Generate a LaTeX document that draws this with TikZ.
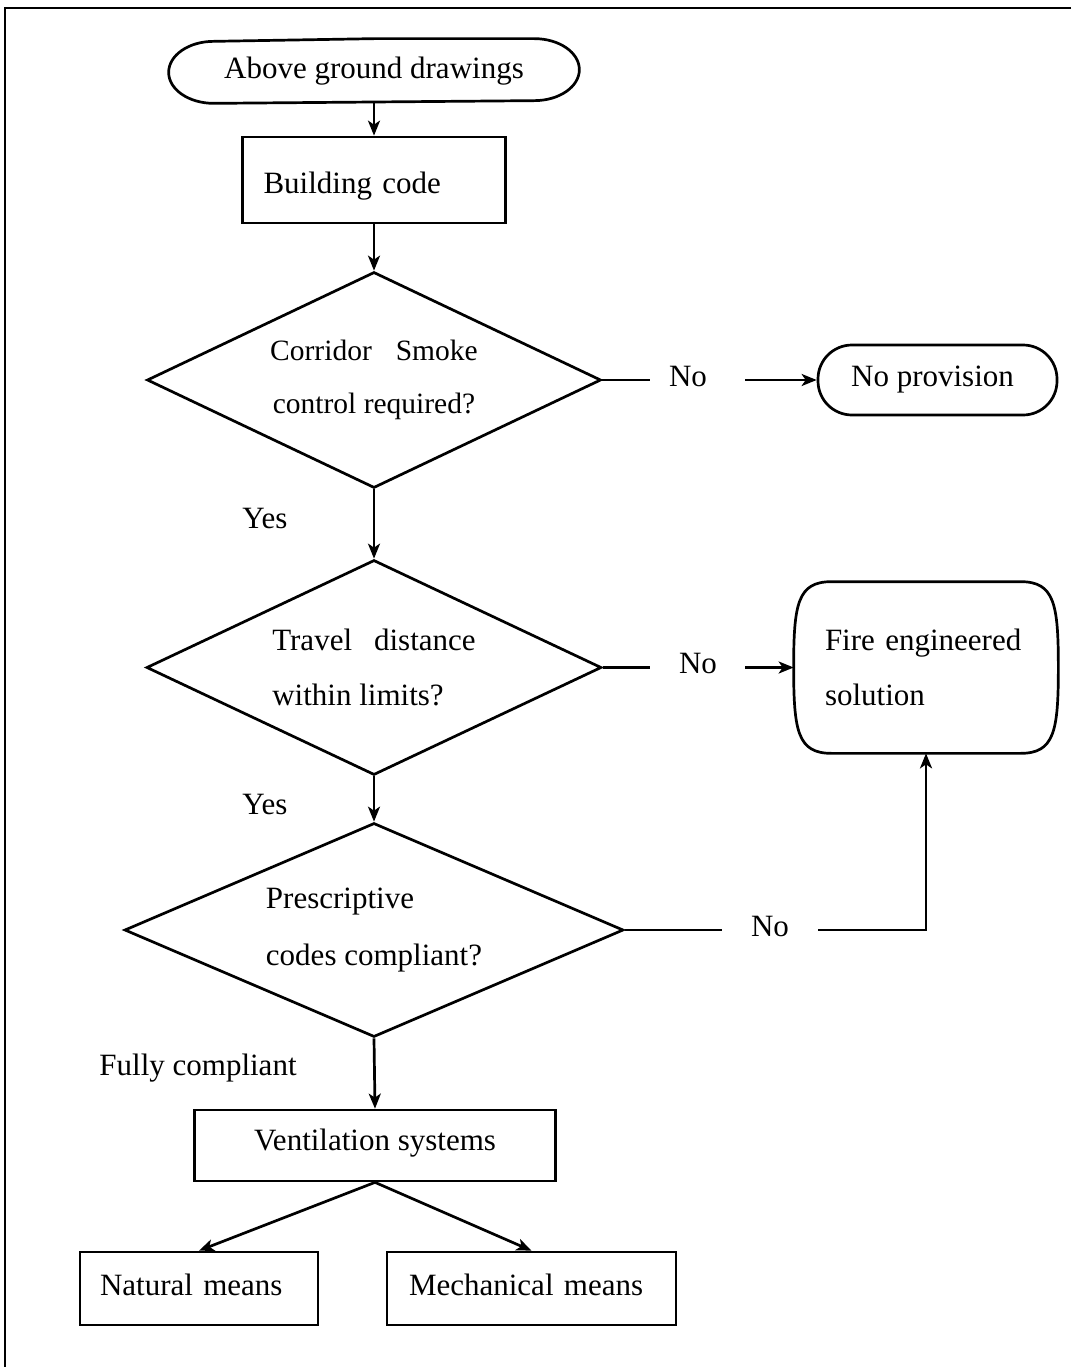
\documentclass[tikz,border=0pt]{standalone}
\usepackage{fontspec}
\setmainfont{Liberation Serif}
\usetikzlibrary{shapes.geometric,arrows.meta}
\begin{document}
\begin{tikzpicture}[x=1pt,y=1pt,
  line width=2.7pt,
  every node/.style={font=\fontsize{31}{38}\selectfont},
  arr/.style={-{Stealth[length=15pt,width=12pt,inset=4pt]}},
  box/.style={draw, rectangle, inner sep=0pt},
  decision/.style={draw, diamond, inner sep=0pt},
  lbl/.style={inner sep=0pt},
]
\useasboundingbox (0,0) rectangle (1071,-1367);
\draw[line width=2.2pt] (1071,-8) -- (5,-8) -- (5,-1367);

% start terminal
\node[lbl, minimum width=408, minimum height=62] (start) at (374,-71) {Above ground drawings};
\draw (start.north) -- ([xshift=-45pt]start.north east)
  arc[start angle=90,end angle=-90,x radius=45,y radius=31]
  -- ([xshift=45pt]start.south west)
  arc[start angle=270,end angle=90,x radius=45,y radius=31] -- cycle;

\node[box, minimum width=263, minimum height=86, text width=221pt, align=left, inner xsep=21pt,
  text height=27pt, text depth=0pt] (bc) at (374,-180) {Building code};

\node[decision, shape aspect=2.1, minimum width=454, minimum height=216, align=center] (d1) at (374,-380)
  {\fontsize{29.5}{36}\selectfont Corridor\hspace{24pt}Smoke\\[15pt]\fontsize{29.5}{36}\selectfont control required?};

\node[draw, rounded corners=34pt, minimum width=239, minimum height=70] (np) at (937.5,-380) {\hspace{-10pt}No provision};

\node[decision, shape aspect=2.1, minimum width=455, minimum height=215, align=left] (d2) at (374,-667.5)
  {Travel\hspace{22pt}distance\\[17pt]within limits?};

\node[lbl, minimum width=262, minimum height=169, text width=202pt, inner xsep=30pt, align=left] (fes) at (926,-667.5)
  {Fire engineered\\[17pt]solution};
\draw ([xshift=38pt]fes.north west) -- ([xshift=-38pt]fes.north east)
  .. controls +(34,0) and +(0,64) .. (fes.east)
  .. controls +(0,-64) and +(34,0) .. ([xshift=-38pt]fes.south east)
  -- ([xshift=38pt]fes.south west)
  .. controls +(-34,0) and +(0,-64) .. (fes.west)
  .. controls +(0,64) and +(-34,0) .. ([xshift=38pt]fes.north west) -- cycle;

\node[decision, shape aspect=2.33, minimum width=499, minimum height=214, align=left] (d3) at (374,-930)
  {Prescriptive\\[19pt]codes compliant?\hspace{10pt}};

\node[box, minimum width=361, minimum height=71, text height=10.5pt, text depth=0pt] (vs) at (375,-1145.5) {Ventilation systems};
\node[box, minimum width=238, minimum height=73, text width=198pt, inner xsep=20pt, align=left,
  text height=13pt, text depth=0pt] (nm) at (199,-1288.5) {Natural means};
\node[box, minimum width=289, minimum height=73, text width=245pt, inner xsep=22pt, align=left,
  text height=13pt, text depth=0pt] (mm) at (531.5,-1288.5) {Mechanical means};

% labels
\node[lbl] (no1) at (688,-376) {No};
\node[lbl] (no2) at (698,-663) {No};
\node[lbl] (no3) at (770,-926) {No};
\node[lbl] (yes1) at (265,-518) {Yes};
\node[lbl] (yes2) at (265,-804) {Yes};
\node[lbl] (fc) at (198,-1068) {Fully compliant};

\coordinate (c1a) at (650,-380);
\coordinate (c1b) at (745,-380);
\coordinate (c2a) at (650,-667.5);
\coordinate (c2b) at (745,-667.5);
\coordinate (c3a) at (722,-930);
\coordinate (c3b) at (818,-930);

% connectors
\draw[arr] (start.south) -- (bc.north);
\draw[arr] (bc.south) -- (d1.north);
\draw (d1.east) -- (c1a);
\draw[arr] (c1b) -- (np.west);
\draw[arr] (d1.south) -- (d2.north);
\draw (d2.east) -- (c2a);
\draw[arr] (c2b) -- (fes.west);
\draw[arr] (d2.south) -- (d3.north);
\draw (d3.east) -- (c3a);
\draw[arr] (c3b) -| (fes.south);
\draw[arr] (d3.south) -- (vs.north);
\draw[arr] (vs.south) -- (nm.north);
\draw[arr] (vs.south) -- (mm.north);
\end{tikzpicture}
\end{document}
